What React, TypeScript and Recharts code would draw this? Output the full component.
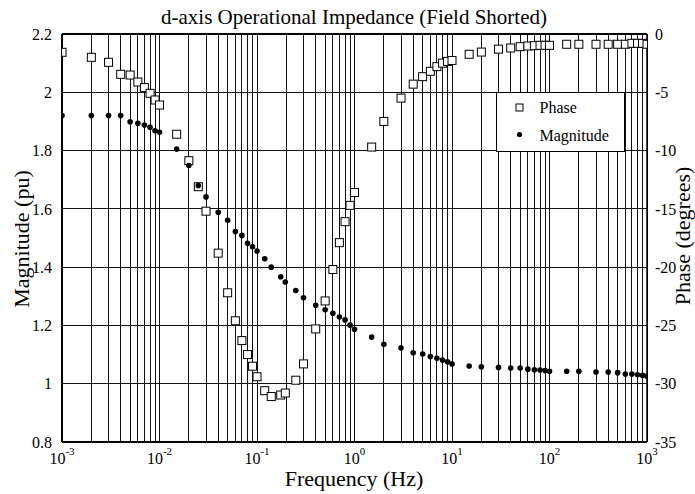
import React from "react"
import { ComposedChart, Scatter, XAxis, YAxis, CartesianGrid, Legend, ReferenceLine } from "recharts"

const freqHz = [
  0.001, 0.002, 0.003, 0.004, 0.005, 0.006, 0.007, 0.008, 0.009, 0.01,
  0.015, 0.02, 0.025, 0.03, 0.04, 0.05, 0.06, 0.07, 0.08, 0.09, 0.1,
  0.12, 0.14, 0.175, 0.195, 0.25, 0.3, 0.4, 0.5, 0.6, 0.7, 0.8, 0.9, 1,
  1.5, 2, 3, 4, 5, 6, 7, 8, 9, 10,
  15, 20, 30, 40, 50, 60, 70, 80, 90, 100,
  150, 200, 300, 400, 500, 600, 700, 800, 900, 1000,
]

const phaseDeg = [
  -1.57, -2.0, -2.43, -3.46, -3.52, -4.12, -4.6, -5.09, -5.66, -6.09,
  -8.6, -10.87, -13.1, -15.2, -18.8, -22.2, -24.6, -26.3, -27.5, -28.5, -29.4,
  -30.6, -31.1, -30.97, -30.8, -29.7, -28.3, -25.3, -22.9, -20.2, -17.9, -16.1, -14.7, -13.6,
  -9.7, -7.5, -5.5, -4.3, -3.66, -3.2, -2.8, -2.5, -2.35, -2.27,
  -1.74, -1.55, -1.3, -1.2, -1.09, -1.03, -1.0, -0.97, -0.97, -0.97,
  -0.88, -0.88, -0.88, -0.88, -0.88, -0.88, -0.8, -0.8, -0.8, -0.88,
]

const magnitudePu = [
  1.92, 1.92, 1.92, 1.92, 1.899, 1.894, 1.888, 1.88, 1.868, 1.863,
  1.805, 1.749, 1.68, 1.641, 1.588, 1.561, 1.522, 1.509, 1.482, 1.47, 1.455,
  1.429, 1.4, 1.367, 1.349, 1.32, 1.295, 1.269, 1.254, 1.242, 1.229, 1.219, 1.201, 1.187,
  1.16, 1.135, 1.123, 1.106, 1.102, 1.093, 1.087, 1.081, 1.075, 1.068,
  1.061, 1.058, 1.056, 1.054, 1.054, 1.05, 1.048, 1.047, 1.045, 1.043,
  1.043, 1.043, 1.04, 1.04, 1.038, 1.033, 1.033, 1.031, 1.029, 1.026,
]

const decades = [-3, -2, -1, 0, 1, 2, 3]
const magTicks = [0.8, 1, 1.2, 1.4, 1.6, 1.8, 2, 2.2]
const phaseTicks = [-35, -30, -25, -20, -15, -10, -5, 0]

// every 1..9 x 10^n line for the log grid
const freqTicks: number[] = []
for (const d of decades) {
  for (let m = 1; m <= 9; m++) {
    if (d === 3 && m > 1) break
    freqTicks.push(Number((m * Math.pow(10, d)).toPrecision(3)))
  }
}

const rows = freqHz.map((f, i) => ({ f, phase: phaseDeg[i], mag: magnitudePu[i] }))

const FONT = "'Liberation Serif', 'Times New Roman', serif"

function DecadeTick({ x, y, payload }: any) {
  const exp = Math.round(Math.log10(payload.value))
  if (Math.abs(payload.value - Math.pow(10, exp)) > 1e-9) return null
  return (
    <text x={x} y={y + 14} textAnchor="middle" style={{ fontFamily: FONT }} fontSize={16} fill="#000">
      10
      <tspan dy={-9} fontSize={11}>{exp}</tspan>
    </text>
  )
}

const square = (p: any) => (
  <rect x={p.cx - 4} y={p.cy - 4} width={8} height={8} fill="#fff" stroke="#000" strokeWidth={1} />
)
const dot = (p: any) => <circle cx={p.cx} cy={p.cy} r={2.8} fill="#000" />

function LegendBox() {
  return (
    <div style={{ fontFamily: FONT, fontSize: 16, lineHeight: "normal", color: "#000", border: "1.5px solid #000", background: "#fff", boxSizing: "border-box", width: 129, height: 60, position: "relative" }}>
      <svg width={20} height={56} style={{ position: "absolute", left: 14, top: 0 }}>
        <rect x={5} y={11} width={7} height={7} fill="#fff" stroke="#000" />
        <circle cx={8.5} cy={41.5} r={2.6} fill="#000" />
      </svg>
      <span style={{ position: "absolute", left: 42.5, top: 5.5, whiteSpace: "nowrap" }}>Phase</span>
      <span style={{ position: "absolute", left: 42.5, top: 34, whiteSpace: "nowrap" }}>Magnitude</span>
    </div>
  )
}

const tickStyle = { fontSize: 16, fill: "#000", style: { fontFamily: FONT } }

export default function App() {
  return (
    <div style={{ position: "relative", width: 695, height: 494, background: "#fff", fontFamily: FONT, lineHeight: "normal", overflow: "hidden" }}>
      <style>{`body{margin:0} .recharts-wrapper, .recharts-wrapper text { font-family: ${FONT}; }`}</style>
      <ComposedChart width={695} height={494} data={rows} margin={{ top: 34, right: 18, left: 22, bottom: 22 }}>
        <CartesianGrid stroke="#111" strokeWidth={1} yAxisId="left" shapeRendering="crispEdges" />
        <XAxis
          dataKey="f"
          type="number"
          scale="log"
          domain={[0.001, 1000]}
          ticks={freqTicks}
          interval={0}
          allowDataOverflow
          tick={<DecadeTick />}
          tickLine={false}
          axisLine={{ stroke: "#000", strokeWidth: 2 }}
          height={30}
        />
        <YAxis
          yAxisId="left"
          type="number"
          domain={[0.8, 2.2]}
          ticks={magTicks}
          interval={0}
          tickFormatter={(v: number) => String(Number(v.toFixed(1)))}
          tick={tickStyle}
          tickLine={false}
          tickMargin={4}
          axisLine={{ stroke: "#000", strokeWidth: 2 }}
          width={40}
        />
        <YAxis
          yAxisId="right"
          orientation="right"
          type="number"
          domain={[-35, 0]}
          ticks={phaseTicks}
          interval={0}
          tick={tickStyle}
          tickLine={false}
          tickMargin={2}
          axisLine={{ stroke: "#000", strokeWidth: 1.5 }}
          width={30}
        />
        <ReferenceLine yAxisId="left" y={2.2} stroke="#000" strokeWidth={2} />
        <Legend
          layout="vertical"
          align="center"
          verticalAlign="middle"
          content={() => <LegendBox />}
          wrapperStyle={{ left: 496, top: 92, width: 129, height: 60 }}
        />
        <Scatter name="Phase" yAxisId="right" dataKey="phase" shape={square} isAnimationActive={false} />
        <Scatter name="Magnitude" yAxisId="left" dataKey="mag" shape={dot} isAnimationActive={false} />
      </ComposedChart>
      <div style={{ position: "absolute", left: 354, top: 5, transform: "translateX(-50%)", fontSize: 21, whiteSpace: "nowrap" }}>
        d-axis Operational Impedance (Field Shorted)
      </div>
      <div style={{ position: "absolute", left: 354, top: 466, transform: "translateX(-50%)", fontSize: 22, whiteSpace: "nowrap" }}>
        Frequency (Hz)
      </div>
      <div style={{ position: "absolute", left: 21.5, top: 239, transform: "translate(-50%, -50%) rotate(-90deg)", fontSize: 22, whiteSpace: "nowrap" }}>
        Magnitude (pu)
      </div>
      <div style={{ position: "absolute", left: 682.5, top: 236, transform: "translate(-50%, -50%) rotate(-90deg)", fontSize: 22, whiteSpace: "nowrap" }}>
        Phase (degrees)
      </div>
    </div>
  )
}
